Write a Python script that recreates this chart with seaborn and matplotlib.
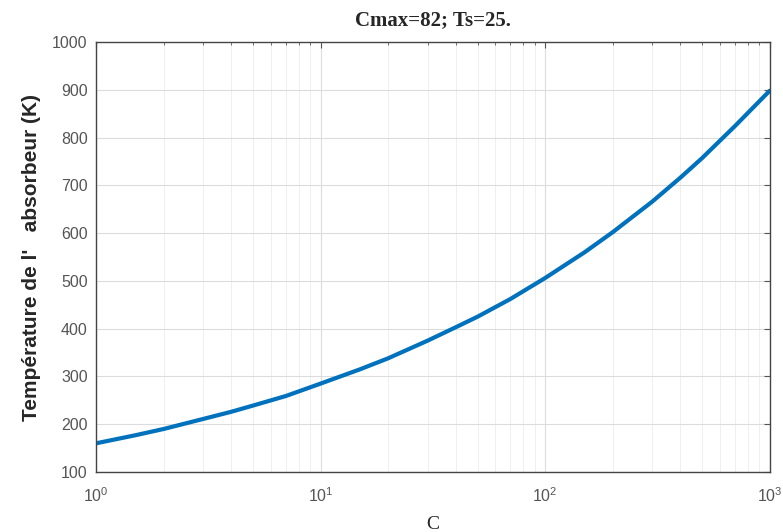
import seaborn as sns
import matplotlib.pyplot as plt
import pandas as pd

# Values
conc = [1, 1.5, 2, 3, 4, 5, 7, 10, 15, 20, 30, 40, 50, 70, 100, 150, 200, 300, 400, 500, 700, 1000]
temp = [160, 177, 190, 211, 226, 239, 259, 285, 315, 338, 375, 403, 425, 462, 506, 560, 602, 666, 716, 757, 824, 898]
yticks = [100, 200, 300, 400, 500, 600, 700, 800, 900, 1000]

df = pd.DataFrame({'C': conc, 'T': temp})

sns.set_style("whitegrid")
plt.rcParams['font.family'] = ['Liberation Sans', 'DejaVu Sans']

fig = plt.figure(figsize=(7.83, 5.32), dpi=100)
ax = fig.add_axes([0.1226, 0.1128, 0.8604, 0.8082])

sns.lineplot(data=df, x='C', y='T', ax=ax, color='#0072BD', linewidth=3)

ax.set_xscale('log')
ax.set_xlim(1, 1000)
ax.set_ylim(100, 1000)
ax.set_yticks(yticks)

# MATLAB-like grid and box
ax.grid(True, which='major', color='#dcdcdc', linewidth=0.8)
ax.grid(True, which='minor', axis='x', color='#ececec', linewidth=0.6)
ax.tick_params(which='both', direction='in', top=True, right=True, colors='#555555', labelsize=11.5)
ax.tick_params(which='major', length=4, pad=6)
ax.tick_params(axis='x', which='major', pad=10)
ax.tick_params(which='minor', length=2)
for s in ax.spines.values():
    s.set_color('#444444')
    s.set_linewidth(1.0)

ax.set_title('Cmax=82; Ts=25.', fontsize=15, fontweight='bold', family=['Liberation Serif'], pad=12)
ax.set_xlabel('C', fontsize=14, family=['Liberation Serif'], labelpad=8)
ax.set_ylabel("Température de l'   absorbeur (K)", fontsize=15, fontweight='bold', labelpad=8)

fig.savefig('out.png', dpi=100)
